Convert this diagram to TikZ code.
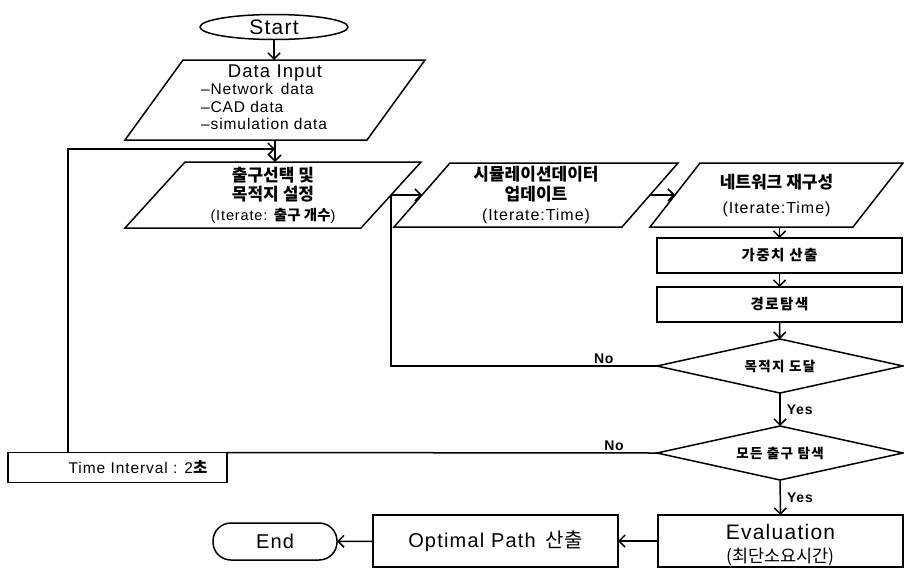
\documentclass[tikz,border=0pt]{standalone}
\usepackage{fontspec}
\setmainfont{Liberation Sans}[LetterSpace=6]
\newfontfamily\kr{Noto Sans CJK KR}
\newfontfamily\krs{Noto Sans CJK KR}[LetterSpace=10]
\usetikzlibrary{arrows.meta,calc,shapes.geometric}

\newcommand\fsz[2]{\fontsize{#1}{#2}\selectfont}
% slanted (input/output) frame around a plain rectangular node
\newcommand\slantframe[2]{%
  \path (#1.north west) ++(#2,0) coordinate (#1-tl);
  \path (#1.south east) ++(-#2,0) coordinate (#1-br);
  \coordinate (#1-l) at ($(#1-tl)!0.5!(#1.south west)$);
  \coordinate (#1-r) at ($(#1.north east)!0.5!(#1-br)$);
  \draw[frame] (#1-tl) -- (#1.north east) -- (#1-br) -- (#1.south west) -- cycle;}

\begin{document}
\begin{tikzpicture}[x=1pt,y=-1pt,line width=1.5pt,
  >={Straight Barb[length=6pt,width=12pt]},
  frame/.style={line join=miter},
  io/.style={draw=none,outer sep=0pt,inner sep=0pt,align=center},
  proc/.style={draw,outer sep=0pt,inner sep=0pt,align=center,minimum width=245pt},
  decide/.style={draw,diamond,aspect=4.5,inner sep=0pt,outer sep=0pt,
    minimum width=246pt,minimum height=54pt,font=\fsz{13.5}{13.5}\krs\bfseries},
  lab/.style={font=\fsz{14}{14}\bfseries,inner sep=2pt}]
\useasboundingbox (0,0) rectangle (904,571);

% terminals
\node[draw,ellipse,minimum width=148pt,minimum height=25pt,inner sep=0pt,outer sep=0pt,
  font=\fsz{21}{21}] (start) at (274,27) {Start};
\node[draw,rounded corners=18pt,minimum width=124pt,minimum height=37pt,inner sep=0pt,
  outer sep=0pt,font=\fsz{20}{20}] (end) at (275,541.5) {End};

% input / output steps
\node[io,minimum width=300pt,minimum height=80pt,font=\fsz{18.5}{17.5}] (datain) at (275,100)
  {Data Input\\
   {\fsz{15.5}{17.5}\begin{tabular}[t]{@{}l@{}}–Network\, data\\–CAD data\\–simulation data\end{tabular}\hspace*{22pt}}};
\slantframe{datain}{58}

\node[io,minimum width=296pt,minimum height=66pt,font=\fsz{17}{19.5}] (box3) at (273,195)
  {{\kr\bfseries 출구선택 및}\\{\kr\bfseries 목적지 설정}\\
   {\fsz{14.5}{18}(Iterate: {\kr\bfseries 출구 개수})}};
\slantframe{box3}{60}

\node[io,minimum width=284pt,minimum height=64pt,font=\fsz{17}{20}] (box4) at (536,195)
  {{\kr\bfseries 시뮬레이션데이터}\\{\kr\bfseries 업데이트}\\
   {\fsz{16}{18}(Iterate:Time)}};
\slantframe{box4}{56}

\node[io,minimum width=253pt,minimum height=64pt,font=\fsz{17}{25}] (box5) at (776.5,195)
  {{\kr\bfseries 네트워크 재구성}\\
   {\fsz{16}{18}(Iterate:Time)}};
\slantframe{box5}{50}

% processing steps
\node[proc,minimum height=35pt,font=\fsz{14.5}{14.5}\krs\bfseries] (weight) at (779.5,255.5)
  {가중치 산출};
\node[proc,minimum height=35pt,font=\fsz{14.5}{14.5}\krs\bfseries] (route) at (779.5,304.5)
  {경로탐색};
\node[decide] (dia1) at (780,366) {목적지 도달};
\node[decide] (dia2) at (780,453) {모든 출구 탐색};
\node[proc,minimum height=52pt,font=\fsz{21}{23}] (eval) at (780.5,541)
  {\rule{0pt}{23pt}Evaluation\\{\fsz{17.5}{21}\kr (최단소요시간)}};
\node[proc,minimum height=52pt,font=\fsz{20}{20}] (optimal) at (495.5,541)
  {Optimal Path\, {\kr 산출}};
\node[draw,outer sep=0pt,inner sep=0pt,minimum width=219pt,minimum height=30pt,
  font=\fsz{15.5}{15.5}] (ti) at (117.5,467.5) {\hspace*{41pt}Time Interval : 2{\kr\bfseries 초}};

% main flow
\draw[->] (start.south) -- (start.south |- datain.north);
\draw[->] (datain.south) -- (datain.south |- box3.north);
\draw[->] (box3-r) -- (box4-l);
\draw[->] (box4-r) -- (box5-l);
\draw[->] (weight.north |- box5.south) -- (weight.north);
\draw[->] (weight) -- (route);
\draw[->] (route) -- (dia1);
\draw[->] (dia1) -- node[lab,right,xshift=4pt]{Yes} (dia2);
\draw[->] (dia2) -- node[lab,right,xshift=4pt]{Yes} (eval);
\draw[->] (eval) -- (optimal);
\draw[->] (optimal) -- (end);

% loops back
\coordinate (join) at ($(datain.south)!0.41!(datain.south |- box3.north)$);
\coordinate (loopstart) at ($(ti.north west)+(60,0)$);
\draw[->] (loopstart) |- (join);
\draw (dia1.west) -- node[lab,above,pos=0.2]{No} (dia1.west -| box3-r) -- (box3-r);
\draw (dia2.west) -- node[lab,above,pos=0.1]{No} (ti.north east);
\end{tikzpicture}
\end{document}
